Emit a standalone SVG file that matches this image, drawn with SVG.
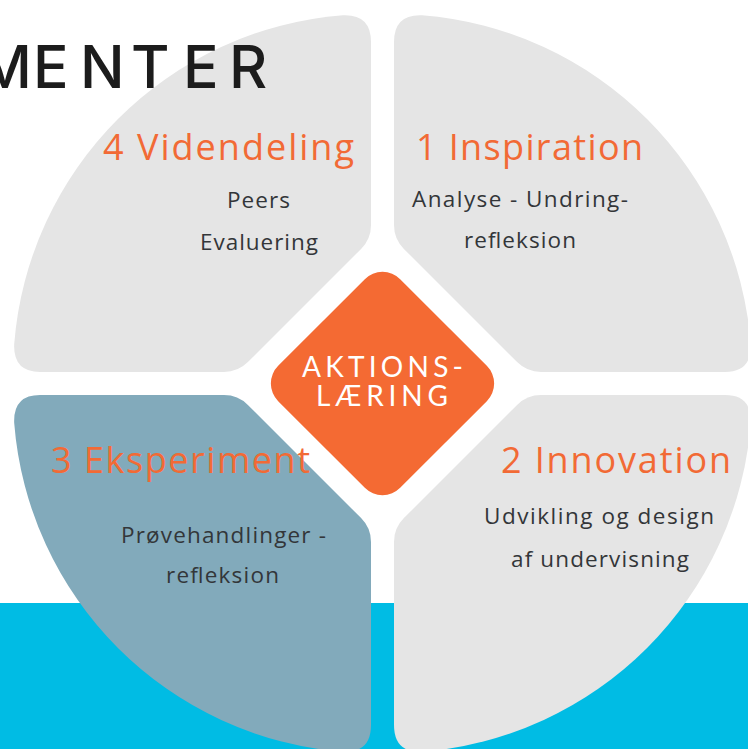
<svg xmlns="http://www.w3.org/2000/svg" width="748" height="749" viewBox="0 0 748 749">
<style>
.piece{fill:#e5e5e5}
.blue{fill:#82aabb}
.title{font-family:"Open Sans","Liberation Sans",sans-serif;font-weight:400;font-size:36px;fill:#f26a35}
.body{font-family:"Open Sans","Liberation Sans",sans-serif;font-size:22.5px;fill:#333639}
.center{font-family:Lato,"Liberation Sans",sans-serif;font-size:28px;fill:#ffffff}
.head{font-family:Inter,"Liberation Sans",sans-serif;font-weight:500;font-size:59px;fill:#1c1c1c}
</style>
<rect x="0" y="0" width="748" height="749" fill="#ffffff"/>
<rect id="band" x="0" y="603" width="748" height="146" fill="#00bce4"/>
<g id="node4">
<path class="piece" d="M343 15.2 Q371 14 371 42 L371 225 Q371 239 361.1 248.9 L247.9 362.1 Q238 372 224 372 L40 372 Q13 372 14.2 344 A358 358 0 0 1 343 15.2 Z"/>
<text class="title" x="103" y="160" textLength="251">4 Videndeling</text>
<text class="body" x="227" y="208" textLength="63">Peers</text>
<text class="body" x="200" y="250" textLength="118">Evaluering</text>
</g>
<g id="node1">
<path class="piece" d="M422 15.2 Q394 14 394 42 L394 225 Q394 239 403.9 248.9 L517.1 362.1 Q527 372 541 372 L725 372 Q752 372 750.8 344 A358 358 0 0 0 422 15.2 Z"/>
<text class="title" x="416" y="160" textLength="227">1 Inspiration</text>
<text class="body" x="412" y="207" textLength="216">Analyse - Undring-</text>
<text class="body" x="464" y="248" textLength="112">refleksion</text>
</g>
<g id="node3">
<path class="blue" d="M343 751.8 Q371 753 371 725 L371 542 Q371 528 361.1 518.1 L247.9 404.9 Q238 395 224 395 L40 395 Q13 395 14.2 423 A358 358 0 0 0 343 751.8 Z"/>
<text class="title" x="51" y="473" textLength="259">3 Eksperiment</text>
<text class="body" x="121" y="543" textLength="205">Prøvehandlinger -</text>
<text class="body" x="166" y="583" textLength="113">refleksion</text>
</g>
<g id="node2">
<path class="piece" d="M422 751.8 Q394 753 394 725 L394 542 Q394 528 403.9 518.1 L517.1 404.9 Q527 395 541 395 L725 395 Q752 395 750.8 423 A358 358 0 0 1 422 751.8 Z"/>
<text class="title" x="501" y="473" textLength="230">2 Innovation</text>
<text class="body" x="484" y="524" textLength="230">Udvikling og design</text>
<text class="body" x="511" y="567" textLength="178">af undervisning</text>
</g>
<g id="center">
<path fill="#f46a33" d="M364.82 279.18 A25 25 0 0 1 400.18 279.18 L486.82 365.82 A25 25 0 0 1 486.82 401.18 L400.18 487.82 A25 25 0 0 1 364.82 487.82 L278.18 401.18 A25 25 0 0 1 278.18 365.82 Z"/>
<text class="center" x="302" y="377" textLength="161">AKTIONS-</text>
<text class="center" x="316" y="406" textLength="132">LÆRING</text>
</g>
<text id="heading" class="head" x="-22 33 80 131 183 229" y="88">MENTER</text>
<g id="connectors"></g>
</svg>
